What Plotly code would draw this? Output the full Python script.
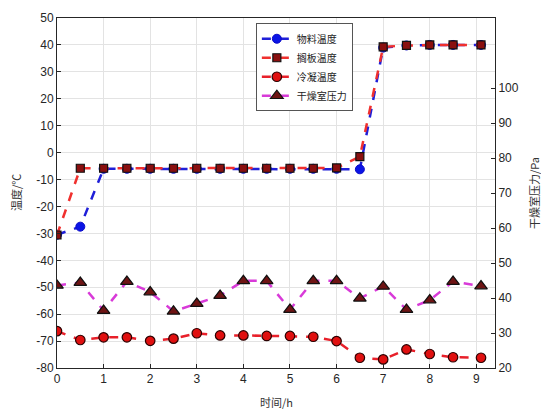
import plotly.graph_objects as go

time_h = [0, 0.5, 1, 1.5, 2, 2.5, 3, 3.5, 4, 4.5, 5, 5.5, 6, 6.5, 7, 7.5, 8, 8.5, 9.1]
material_temp = [-30.5, -27.5, -6.0, -6.0, -6.0, -6.0, -6.0, -6.0, -6.0, -6.0, -6.0, -6.0, -6.0, -6.2,
                 39.0, 39.8, 40.0, 40.0, 40.0]
shelf_temp = [-30.6, -5.8, -5.8, -5.8, -5.8, -5.8, -5.8, -5.8, -5.8, -5.8, -5.8, -5.8, -5.7, -1.5,
              39.3, 39.8, 40.0, 40.0, 40.0]
condenser_temp = [-66.3, -69.6, -68.6, -68.6, -69.9, -69.1, -67.1, -67.9, -67.9, -68.1, -68.1, -68.4,
                  -70.0, -76.2, -76.8, -73.1, -74.8, -76.0, -76.2]
chamber_pressure = [43.6, 44.4, 36.4, 44.7, 41.7, 36.2, 38.4, 40.7, 44.9, 44.9, 36.7, 44.9, 44.9,
                    39.9, 43.3, 36.7, 39.4, 44.7, 43.4]

left_ticks = list(range(-80, 51, 10))
right_ticks = list(range(20, 101, 10))
x_ticks = list(range(0, 10))

names = ["物料温度", "搁板温度", "冷凝温度", "干燥室压力"]

fig = go.Figure()
fig.add_trace(go.Scatter(
    x=time_h, y=material_temp, name=names[0], mode="lines+markers",
    line=dict(color="#1f1fd8", width=2.5, dash="dash"),
    marker=dict(symbol="circle", size=9, color="#0a14e6", line=dict(color="#0a0ac8", width=1)),
))
fig.add_trace(go.Scatter(
    x=time_h, y=shelf_temp, name=names[1], mode="lines+markers",
    line=dict(color="#f0302e", width=2.5, dash="dash"),
    marker=dict(symbol="square", size=8, color="#8a0f0f", line=dict(color="#111111", width=1.2)),
))
fig.add_trace(go.Scatter(
    x=time_h, y=condenser_temp, name=names[2], mode="lines+markers",
    line=dict(color="#e8202a", width=2.5, dash="dash"),
    marker=dict(symbol="circle", size=9.5, color="#e01010", line=dict(color="#2a0000", width=1.2)),
))
fig.add_trace(go.Scatter(
    x=time_h, y=chamber_pressure, name=names[3], mode="lines+markers", yaxis="y2",
    line=dict(color="#d83ad8", width=2.5, dash="dash"),
    marker=dict(symbol="triangle-up", size=11, color="#6e1414", line=dict(color="#111111", width=1.2)),
))

axis_font = dict(family="Liberation Sans, Arial, sans-serif", size=12, color="#262626")
cjk = "Noto Sans CJK SC, sans-serif"
title_font = dict(family=cjk, size=11, color="#333333")

fig.update_layout(
    width=541, height=402,
    margin=dict(l=49, r=54, t=10, b=42, autoexpand=False),
    paper_bgcolor="white", plot_bgcolor="white",
    showlegend=True,
    legend=dict(
        x=0.454, y=0.985, xanchor="left", yanchor="top",
        bgcolor="white", bordercolor="#555555", borderwidth=1,
        font=dict(family=cjk, size=10, color="#222222"),
        tracegroupgap=0, itemwidth=30,
    ),
    xaxis=dict(
        range=[0, 9.4], tickvals=x_ticks, ticktext=[str(v) for v in x_ticks],
        showgrid=True, gridcolor="#e3e3e3", gridwidth=1,
        showline=True, linecolor="#262626", linewidth=1, mirror=True,
        ticks="inside", ticklen=4, tickcolor="#262626",
        tickfont=axis_font, zeroline=False, automargin=False,
    ),
    yaxis=dict(
        range=[-80, 50], tickvals=left_ticks, ticktext=[str(v) for v in left_ticks],
        showgrid=True, gridcolor="#e3e3e3", gridwidth=1,
        showline=True, linecolor="#262626", linewidth=1,
        ticks="inside", ticklen=4, tickcolor="#262626",
        tickfont=axis_font, zeroline=False, automargin=False,
    ),
    yaxis2=dict(
        range=[20, 120], tickvals=right_ticks, ticktext=[str(v) for v in right_ticks],
        overlaying="y", side="right", showgrid=False,
        showline=True, linecolor="#262626", linewidth=1,
        ticks="inside", ticklen=4, tickcolor="#262626",
        tickfont=axis_font, zeroline=False, automargin=False,
    ),
    annotations=[
        dict(text="时间/h", xref="paper", yref="paper", x=0.5, y=0, yshift=-34,
             xanchor="center", yanchor="middle", showarrow=False, font=title_font),
        dict(text="温度/℃", xref="paper", yref="paper", x=0, y=0.5, xshift=-41,
             xanchor="center", yanchor="middle", textangle=-90, showarrow=False, font=title_font),
        dict(text="干燥室压力/Pa", xref="paper", yref="paper", x=1, y=0.5, xshift=39,
             xanchor="center", yanchor="middle", textangle=-90, showarrow=False, font=title_font),
    ],
)

fig.write_html("out.html")
